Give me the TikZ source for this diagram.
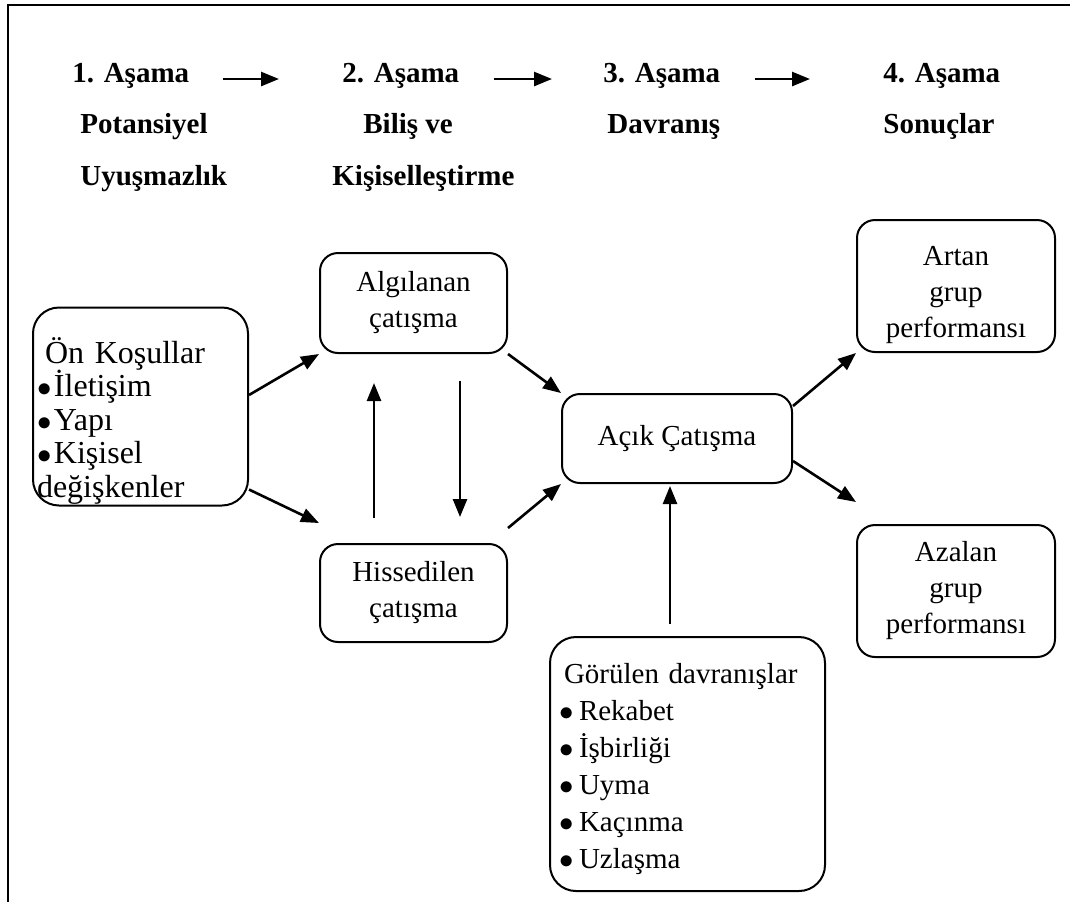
\documentclass[tikz,border=0pt]{standalone}
\usepackage{fontspec}
\setmainfont{Liberation Serif}
\usetikzlibrary{arrows.meta,positioning,calc}
\newcommand{\bul}[1][8.5pt]{\makebox[#1][l]{\fontsize{13.5}{13.5}\selectfont$\bullet$}}

\begin{document}
\begin{tikzpicture}
[x=0.5pt,y=-0.5pt,
    stage/.style={font=\fontsize{14.5}{18}\selectfont\bfseries,inner sep=0pt,anchor=base west},
    box/.style={draw,line width=1pt,rounded corners=9pt,align=center,inner sep=0pt,
    font=\fontsize{14.5}{18}\selectfont},
    listbox/.style={box,align=left,rounded corners=13pt},
    myarrow/.style={-{Triangle[length=9pt,width=7pt]},line width=1.3pt},
    frame/.style={line width=1.4pt}]
%%%%%%%%%%
\useasboundingbox (0,0) rectangle (1070,902);
\draw[frame] (8,902) -- (8,5) -- (1070,5);
%% stages
\node (s1) [stage] at (72,82) {1. Aşama};
\node (s1a) [stage] at (80,133) {Potansiyel};
\node (s1b) [stage] at (80,185) {Uyuşmazlık};
\node (s2) [stage] at (342,82) {2. Aşama};
\node (s2a) [stage] at (363,133) {Biliş ve};
\node (s2b) [stage] at (332,185) {Kişiselleştirme};
\node (s3) [stage] at (603,82) {3. Aşama};
\node (s3a) [stage] at (607,133) {Davranış};
\node (s4) [stage] at (883,82) {4. Aşama};
\node (s4a) [stage] at (883,133) {Sonuçlar};
%% boxes
\node (onkos) [listbox,text width=103.5pt,inner xsep=2pt,minimum height=99pt,
  font=\fontsize{16}{16.75}\selectfont]
  at (140.5,406.5) {\rule{0pt}{27pt}\hspace*{4pt}Ön Koşullar\\
  \bul İletişim\\ \bul Yapı\\ \bul Kişisel\\ değişkenler};
\node (alg) [box,minimum width=93.5pt,minimum height=50pt] at (413.5,303)
  {Algılanan\\çatışma};
\node (his) [box,minimum width=93.5pt,minimum height=49pt,below=94.5pt of alg]
  {Hissedilen\\çatışma};
\node (acik) [box,minimum width=115pt,minimum height=44.5pt] at (677,438.5)
  {Açık Çatışma};
\node (artan) [box,minimum width=99pt,minimum height=66pt] at (956,286)
  {\rule{0pt}{19pt}Artan\\grup\\performansı};
\node (azalan) [box,minimum width=99pt,minimum height=66pt,below=85.5pt of artan]
  {Azalan\\grup\\performansı};
\node (gorulen) [listbox,text width=128.5pt,inner xsep=4.5pt,minimum height=127pt,
  font=\fontsize{14.5}{18.5}\selectfont]
  at (687.5,764) {\rule{0pt}{15pt}\hspace*{2.5pt}Görülen davranışlar\\
  \bul[10pt]Rekabet\\ \bul[10pt]İşbirliği\\ \bul[10pt]Uyma\\
  \bul[10pt]Kaçınma\\ \bul[10pt]Uzlaşma};
%% stage arrows
\draw[myarrow,shorten <=16.5pt,shorten >=31.5pt] ([yshift=1.5pt]s1.base east) -- ([yshift=1.5pt]s2.base west);
\draw[myarrow,shorten <=17pt,shorten >=25.5pt] ([yshift=1.5pt]s2.base east) -- ([yshift=1.5pt]s3.base west);
\draw[myarrow,shorten <=17pt,shorten >=36.5pt] ([yshift=1.5pt]s3.base east) -- ([yshift=1.5pt]s4.base west);
%% edges
\draw[myarrow] ([yshift=5.75pt]onkos.east) -- (alg.south west);
\draw[myarrow] ([yshift=8.5pt]onkos.south east) -- ([yshift=10pt]his.north west);
\draw[myarrow,shorten <=12.5pt,shorten >=14.5pt] ([xshift=-19.75pt]his.north) -- ([xshift=-19.75pt]alg.south);
\draw[myarrow,shorten <=13.5pt,shorten >=13pt] ([xshift=23.25pt]alg.south) -- ([xshift=23.25pt]his.north);
\draw[myarrow] (alg.south east) -- (acik.north west);
\draw[myarrow] ([yshift=7.5pt]his.north east) -- (acik.south west);
\draw[myarrow,shorten <=6pt,shorten >=1pt] ($(acik.south |- gorulen.north)+(-7,0)$) -- ($(acik.south)+(-7,0)$);
\draw[myarrow] ([yshift=-6.5pt]acik.north east) -- (artan.south west);
\draw[myarrow] ([yshift=11.5pt]acik.south east) -- ([yshift=11pt]azalan.north west);
\end{tikzpicture}
\end{document}
